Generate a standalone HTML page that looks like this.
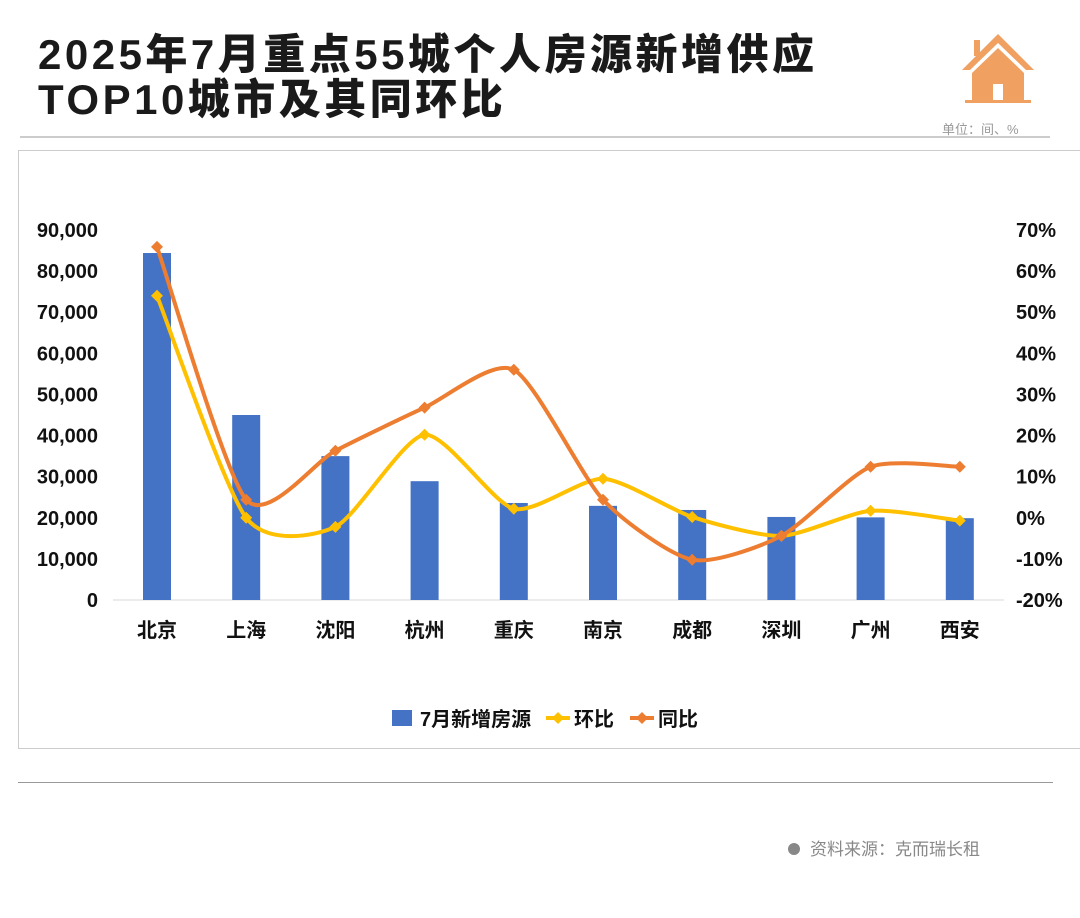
<!DOCTYPE html>
<html><head><meta charset="utf-8">
<style>
body{margin:0;width:1080px;height:918px;background:#fff;position:relative;overflow:hidden;font-family:"Liberation Sans","Noto Sans CJK SC",sans-serif;}
.t{position:absolute;left:38px;font-weight:900;font-size:42px;color:#1a1a1a;line-height:45px;letter-spacing:3.5px}
</style></head><body>
<div class="t" style="top:32px">2025年7月重点55城个人房源新增供应<br>TOP10城市及其同环比</div>
<svg style="position:absolute;left:960px;top:30px" width="76" height="74" viewBox="0 0 76 74">
<path d="M38 4 L74 40 L66 40 L38 13 L10 40 L2 40 Z" fill="#f0a060"/>
<rect x="14" y="10" width="6" height="16" fill="#f0a060"/>
<path d="M38 18 L64 43 L64 72 L12 72 L12 43 Z" fill="#f0a060"/>
<rect x="33" y="54" width="10" height="18" fill="#fff"/>
<rect x="5" y="70" width="66" height="3" fill="#f0a060"/>
</svg>
<div style="position:absolute;left:942px;top:119px;font-size:13px;color:#999">单位：间、%</div>
<div style="position:absolute;left:20px;top:136px;width:1030px;height:2px;background:#ccc"></div>
<div style="position:absolute;left:18px;top:150px;width:1070px;height:597px;border:1px solid #ccc"></div>
<div style="position:absolute;left:18px;top:782px;width:1035px;height:1px;background:#999"></div>
<div style="position:absolute;left:788px;top:835px;font-size:17px;color:#888"><span style="display:inline-block;width:12px;height:12px;border-radius:50%;background:#888;margin-right:10px"></span>资料来源：克而瑞长租</div>
<svg id="c" width="1080" height="918" style="position:absolute;left:0;top:0"></svg>
<script>
const cats=["北京","上海","沈阳","杭州","重庆","南京","成都","深圳","广州","西安"];
const supply=[84400,45000,35000,28900,23600,22900,21900,20200,20100,19900];
const hb=[54,0,-2.2,20.2,2.2,9.5,0.2,-4.4,1.7,-0.7];
const tb=[65.9,4.4,16.3,26.8,36,4.4,-10.2,-4.4,12.4,12.4];
const leftTicks=[0,10000,20000,30000,40000,50000,60000,70000,80000,90000];
const rightTicks=[-20,-10,0,10,20,30,40,50,60,70];
const svg=document.getElementById('c');const NS="http://www.w3.org/2000/svg";
function mk(t,a,txt){const e=document.createElementNS(NS,t);for(const k in a)e.setAttribute(k,a[k]);if(txt!==undefined)e.textContent=txt;svg.appendChild(e);return e;}
const y0=600,yTop=230;
const yL=v=>y0-(v/90000)*(y0-yTop);
const yR=v=>y0-((v+20)/90)*(y0-yTop);
const x=i=>157+i*89.2;
let e=mk('line',{x1:113,x2:1004,y1:600,y2:600,stroke:'#d9d9d9','stroke-width':1});

leftTicks.forEach(v=>{const t=mk('text',{x:98,y:yL(v)+7,'text-anchor':'end','font-size':20,'font-weight':'bold',fill:'#111'},v.toLocaleString('en-US'));
});
rightTicks.forEach(v=>{const t=mk('text',{x:1016,y:yR(v)+7,'font-size':20,'font-weight':'bold',fill:'#111'},v+'%');
});
cats.forEach((c,i)=>{const t=mk('text',{x:x(i),y:637,'text-anchor':'middle','font-size':20,'font-weight':'bold',fill:'#111'},c);

const b=mk('rect',{x:x(i)-14,y:yL(supply[i]),width:28,height:y0-yL(supply[i]),fill:'#4472c4'});
});
function smooth(pts){const k=8.5;let d='M'+pts[0][0]+','+pts[0][1];for(let i=0;i<pts.length-1;i++){const p0=pts[i-1]||pts[i],p1=pts[i],p2=pts[i+1],p3=pts[i+2]||p2;
const c1=[p1[0]+(p2[0]-p0[0])/k,p1[1]+(p2[1]-p0[1])/k],c2=[p2[0]-(p3[0]-p1[0])/k,p2[1]-(p3[1]-p1[1])/k];
d+=' C'+c1+' '+c2+' '+p2;}return d;}
function series(vals,col,name){const pts=vals.map((v,i)=>[x(i),yR(v)]);
const p=mk('path',{d:smooth(pts),fill:'none',stroke:col,'stroke-width':4});

pts.forEach(q=>{const m=mk('path',{d:`M${q[0]},${q[1]-6} l6,6 l-6,6 l-6,-6z`,fill:col});
});}
series(hb,'#ffc000','hb');
series(tb,'#ed7d31','tb');
let g=mk('rect',{x:392,y:710,width:20,height:16,fill:'#4472c4'});
g=mk('text',{x:420,y:726,'font-size':20,'font-weight':'bold',fill:'#111'},'7月新增房源');
[[546,'#ffc000','环比','legend-hb'],[630,'#ed7d31','同比','legend-tb']].forEach(a=>{
let l=mk('line',{x1:a[0],x2:a[0]+24,y1:718,y2:718,stroke:a[1],'stroke-width':4});
l=mk('path',{d:`M${a[0]+12},712 l6,6 l-6,6 l-6,-6z`,fill:a[1]});
l=mk('text',{x:a[0]+28,y:726,'font-size':20,'font-weight':'bold',fill:'#111'},a[2]);});
</script>
</body></html>
